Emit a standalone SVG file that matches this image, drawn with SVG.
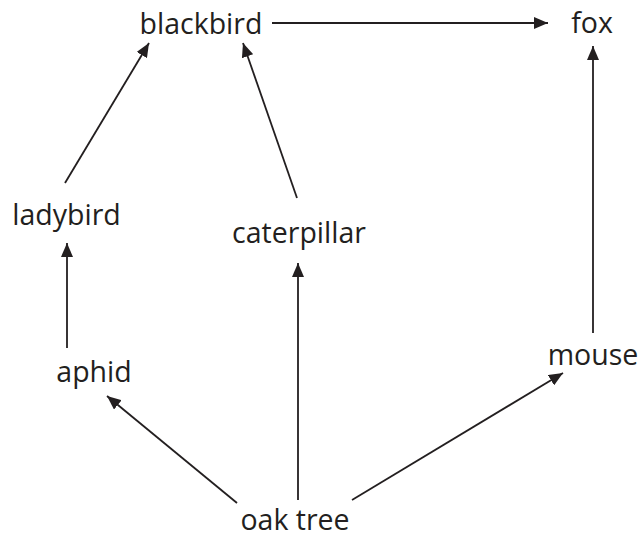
<svg xmlns="http://www.w3.org/2000/svg" width="638" height="540" viewBox="0 0 638 540">
<style>
text{font-family:"Open Sans","Liberation Sans",sans-serif;font-size:28.5px;fill:#231f20;text-anchor:middle}
.c line{stroke:#231f20;stroke-width:1.8;marker-end:url(#ah)}
</style>
<defs>
<marker id="ah" markerUnits="userSpaceOnUse" markerWidth="14" markerHeight="12" refX="14" refY="6" orient="auto">
<path d="M0,0 L14,6 L0,12 z" fill="#231f20"/>
</marker>
</defs>
<rect width="638" height="540" fill="#fff"/>
<g id="connectors" class="c">
<line x1="272" y1="23" x2="548" y2="23"/>
<line x1="65" y1="183" x2="149" y2="43"/>
<line x1="297" y1="198" x2="243" y2="43"/>
<line x1="67" y1="348" x2="67" y2="243"/>
<line x1="298" y1="500" x2="298" y2="263"/>
<line x1="237" y1="503" x2="107" y2="396"/>
<line x1="352" y1="500" x2="563" y2="373"/>
<line x1="593" y1="333" x2="593" y2="46"/>
</g>
<g id="blackbird"><text x="201" y="34">blackbird</text></g>
<g id="fox"><text x="592" y="33">fox</text></g>
<g id="ladybird"><text x="66.5" y="225">ladybird</text></g>
<g id="caterpillar"><text x="299" y="243">caterpillar</text></g>
<g id="aphid"><text x="94" y="382">aphid</text></g>
<g id="mouse"><text x="593" y="365">mouse</text></g>
<g id="oak-tree"><text x="295" y="530">oak tree</text></g>
</svg>
